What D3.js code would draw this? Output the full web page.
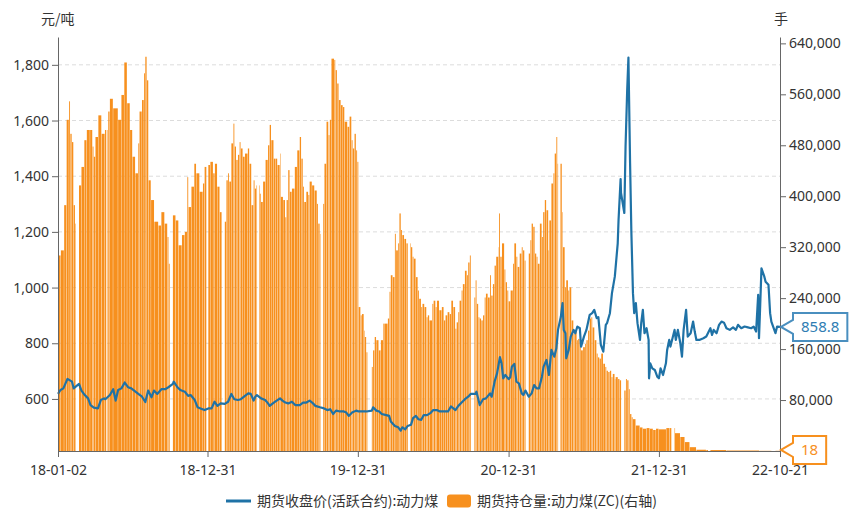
<!DOCTYPE html>
<html>
<head>
<meta charset="utf-8">
<script src="https://cdn.jsdelivr.net/npm/d3@7"></script>
<style>
  body { margin: 0; background: #fff; }
  svg { display: block; font-family: "Noto Sans CJK SC", "Noto Sans", sans-serif; }
</style>
</head>
<body>
<div id="chart"></div>
<script>
// 期货收盘价(活跃合约):动力煤, 元/吨
const priceDates = [
  "2018-01-02","2018-01-08","2018-01-15","2018-01-25","2018-02-05","2018-02-09","2018-02-22","2018-02-28",
  "2018-03-08","2018-03-16","2018-03-22","2018-03-30","2018-04-09","2018-04-16","2018-04-24","2018-04-27",
  "2018-05-08","2018-05-16","2018-05-22","2018-05-28","2018-06-05","2018-06-13","2018-06-21","2018-06-29",
  "2018-07-09","2018-07-16","2018-07-25","2018-08-02","2018-08-09","2018-08-17","2018-08-23","2018-08-31",
  "2018-09-10","2018-09-19","2018-09-27","2018-10-08","2018-10-10","2018-10-19","2018-10-26","2018-11-06",
  "2018-11-14","2018-11-20","2018-11-30","2018-12-07","2018-12-14","2018-12-24",
  "2019-01-02","2019-01-10","2019-01-17","2019-01-24","2019-02-01","2019-02-11","2019-02-19","2019-02-27",
  "2019-03-06","2019-03-15","2019-03-22","2019-04-01","2019-04-09","2019-04-15","2019-04-22","2019-04-26",
  "2019-04-30","2019-05-10","2019-05-20","2019-05-27","2019-05-31","2019-06-10","2019-06-17","2019-06-25",
  "2019-07-01","2019-07-08","2019-07-15","2019-07-24","2019-08-01","2019-08-12","2019-08-20","2019-08-28",
  "2019-09-05","2019-09-11","2019-09-19","2019-09-30","2019-10-10","2019-10-18","2019-10-25","2019-11-01",
  "2019-11-08","2019-11-18","2019-11-27","2019-12-03","2019-12-09","2019-12-17","2019-12-27",
  "2020-01-02","2020-01-08","2020-01-21","2020-02-03","2020-02-06","2020-02-14","2020-02-21","2020-02-27",
  "2020-03-09","2020-03-16","2020-03-20","2020-03-30","2020-04-07","2020-04-13","2020-04-17","2020-04-24",
  "2020-04-30","2020-05-08","2020-05-13","2020-05-20","2020-05-26","2020-06-02","2020-06-08","2020-06-16",
  "2020-06-24","2020-07-01","2020-07-10","2020-07-17","2020-07-29","2020-08-06","2020-08-13","2020-08-24",
  "2020-08-31","2020-09-08","2020-09-16","2020-09-24","2020-09-30","2020-10-12","2020-10-14","2020-10-22",
  "2020-10-30","2020-11-06","2020-11-16","2020-11-20","2020-11-27","2020-12-03","2020-12-10","2020-12-14",
  "2020-12-18","2020-12-23","2020-12-31",
  "2021-01-04","2021-01-08","2021-01-14","2021-01-19","2021-01-25","2021-02-01","2021-02-05","2021-02-10",
  "2021-02-18","2021-02-25","2021-03-03","2021-03-09","2021-03-15","2021-03-22","2021-03-26","2021-04-02",
  "2021-04-08","2021-04-14","2021-04-21","2021-04-26","2021-04-30","2021-05-07","2021-05-11","2021-05-14",
  "2021-05-18","2021-05-20","2021-05-26","2021-05-31","2021-06-07","2021-06-11","2021-06-16","2021-06-22",
  "2021-06-25","2021-07-02","2021-07-08","2021-07-16","2021-07-22","2021-07-27","2021-08-02","2021-08-06",
  "2021-08-12","2021-08-18","2021-08-24","2021-08-27","2021-09-03","2021-09-08","2021-09-15","2021-09-22",
  "2021-09-24","2021-09-29","2021-09-30","2021-10-08","2021-10-11","2021-10-15","2021-10-18","2021-10-22",
  "2021-10-25","2021-10-29","2021-11-01","2021-11-05","2021-11-09","2021-11-15","2021-11-18","2021-11-22",
  "2021-11-26","2021-12-01","2021-12-06","2021-12-07","2021-12-10","2021-12-15","2021-12-21","2021-12-27",
  "2021-12-31",
  "2022-01-04","2022-01-10","2022-01-17","2022-01-20","2022-01-25","2022-01-28","2022-02-07","2022-02-10",
  "2022-02-15","2022-02-21","2022-02-25","2022-03-01","2022-03-07","2022-03-11","2022-03-18","2022-03-24",
  "2022-03-28","2022-04-01","2022-04-08","2022-04-18","2022-04-25","2022-05-05","2022-05-09","2022-05-13",
  "2022-05-20","2022-05-26","2022-06-01","2022-06-07","2022-06-13","2022-06-21","2022-06-29","2022-07-06",
  "2022-07-11","2022-07-19","2022-07-27","2022-08-04","2022-08-12","2022-08-18","2022-08-24","2022-08-29",
  "2022-08-31","2022-09-02","2022-09-06","2022-09-13","2022-09-16","2022-09-23","2022-09-27","2022-09-30",
  "2022-10-10","2022-10-14","2022-10-21"
];
const priceValues = [
  618,632,638,672,662,638,654,630, 614,602,578,569,566,596,602,599,
  614,635,594,632,638,659,642,638, 626,618,608,589,630,606,630,618,
  635,635,642,654,662,642,632,626, 611,614,596,570,566,560,
  566,566,590,575,584,582,590,618, 599,596,599,611,620,618,594,608,
  614,602,596,584,575,587,594,602, 594,587,584,590,578,578,587,587,
  594,587,575,570,566,560,563,546, 558,555,555,551,539,551,558,
  555,555,555,558,570,558,555,546, 542,539,519,503,498,486,498,491,
  503,507,531,539,527,525,542,542, 549,560,560,555,555,555,573,560,
  575,587,599,608,618,618,626,578, 599,602,620,608,662,692,750,728,
  674,686,671,
  678,716,726,662,656,620,614,630, 608,620,650,638,638,680,716,740,
  686,776,752,782,848,896,944,848, 836,746,776,824,848,836,860,854,
  788,824,848,902,908,920,890,894, 794,770,866,872,908,980,1040,1159,
  1243,1390,1340,1268,1506,1710,1826,1447, 1207,980,908,944,872,812,872,920,
  836,854,812,674,728,710,704,680,
  674,
  710,686,728,776,812,788,848,812, 848,800,752,848,920,824,836,878,
  842,812,812,818,824,854,830,848, 836,866,878,874,854,848,857,848,
  866,854,860,857,854,860,842,974, 818,896,1069,1039,1021,1010,908,878,
  836,860,858.8
];

// 期货持仓量:动力煤(ZC), 手 (右轴)
const oiDates = [
  "2018-01-02","2018-01-09","2018-01-17","2018-01-23","2018-01-29","2018-02-01","2018-02-05","2018-02-09",
  "2018-02-13","2018-02-22","2018-02-28","2018-03-07","2018-03-13","2018-03-21","2018-03-27","2018-03-30",
  "2018-04-03","2018-04-10","2018-04-18","2018-04-26","2018-05-04","2018-05-08","2018-05-16","2018-05-28",
  "2018-06-05","2018-06-12","2018-06-19","2018-06-26","2018-07-02","2018-07-09","2018-07-16","2018-07-19",
  "2018-07-25","2018-07-30","2018-08-02","2018-08-06","2018-08-10","2018-08-16","2018-08-24","2018-09-03",
  "2018-09-10","2018-09-18","2018-09-25","2018-09-28","2018-10-08","2018-10-15","2018-10-22","2018-10-30",
  "2018-11-06","2018-11-12","2018-11-15","2018-11-22","2018-11-29","2018-12-04","2018-12-12","2018-12-20",
  "2018-12-24",
  "2019-01-02","2019-01-07","2019-01-14","2019-01-18","2019-01-24","2019-01-30","2019-02-11","2019-02-15",
  "2019-02-19","2019-02-22","2019-02-27","2019-03-04","2019-03-07","2019-03-11","2019-03-15","2019-03-19",
  "2019-03-22","2019-03-27","2019-04-01","2019-04-08","2019-04-12","2019-04-17","2019-04-22","2019-04-25",
  "2019-04-29","2019-05-07","2019-05-10","2019-05-15","2019-05-21","2019-05-27","2019-05-31","2019-06-04",
  "2019-06-10","2019-06-14","2019-06-19","2019-06-25","2019-06-27","2019-07-03","2019-07-08","2019-07-11",
  "2019-07-15","2019-07-19","2019-07-24","2019-07-31","2019-08-06","2019-08-12","2019-08-16","2019-08-20",
  "2019-08-23","2019-08-28","2019-09-02","2019-09-05","2019-09-11","2019-09-17","2019-09-23","2019-09-26",
  "2019-09-30","2019-10-08","2019-10-11","2019-10-16","2019-10-21","2019-10-24","2019-10-28","2019-11-04",
  "2019-11-07","2019-11-11","2019-11-15","2019-11-20","2019-11-25","2019-11-29","2019-12-06","2019-12-11",
  "2019-12-16","2019-12-19","2019-12-23","2019-12-27","2019-12-30",
  "2020-01-02","2020-01-07","2020-01-10","2020-01-15","2020-01-17","2020-01-21","2020-02-03","2020-02-06",
  "2020-02-10","2020-02-14","2020-02-20","2020-02-25","2020-03-02","2020-03-06","2020-03-13","2020-03-17",
  "2020-03-20","2020-03-25","2020-03-30","2020-04-02","2020-04-07","2020-04-10","2020-04-14","2020-04-17",
  "2020-04-22","2020-04-27","2020-05-06","2020-05-08","2020-05-12","2020-05-15","2020-05-20","2020-05-25",
  "2020-05-28","2020-06-02","2020-06-05","2020-06-10","2020-06-15","2020-06-18","2020-06-22","2020-06-29",
  "2020-07-02","2020-07-07","2020-07-10","2020-07-16","2020-07-22","2020-07-27","2020-07-31","2020-08-05",
  "2020-08-10","2020-08-14","2020-08-19","2020-08-24","2020-08-27","2020-08-31","2020-09-03","2020-09-08",
  "2020-09-11","2020-09-16","2020-09-21","2020-09-24","2020-09-28","2020-10-09","2020-10-12","2020-10-15",
  "2020-10-19","2020-10-22","2020-10-26","2020-10-30","2020-11-03","2020-11-06","2020-11-11","2020-11-16",
  "2020-11-19","2020-11-23","2020-11-27","2020-12-01","2020-12-07","2020-12-08","2020-12-11","2020-12-15",
  "2020-12-21","2020-12-24","2020-12-28","2020-12-31",
  "2021-01-05","2021-01-11","2021-01-14","2021-01-19","2021-01-22","2021-01-27","2021-02-01","2021-02-04",
  "2021-02-08","2021-02-18","2021-02-22","2021-02-25","2021-03-01","2021-03-05","2021-03-09","2021-03-12",
  "2021-03-17","2021-03-22","2021-03-25","2021-03-29","2021-04-02","2021-04-07","2021-04-09","2021-04-14",
  "2021-04-19","2021-04-22","2021-04-26","2021-04-29","2021-05-06","2021-05-10","2021-05-12","2021-05-17",
  "2021-05-20","2021-05-25","2021-05-28","2021-06-02","2021-06-07","2021-06-10","2021-06-15","2021-06-18",
  "2021-06-22","2021-06-25","2021-06-30","2021-07-05","2021-07-08","2021-07-12","2021-07-16","2021-07-20",
  "2021-07-23","2021-07-28","2021-08-02","2021-08-05","2021-08-09","2021-08-13","2021-08-18","2021-08-23",
  "2021-08-26","2021-08-30","2021-09-03","2021-09-07","2021-09-10","2021-09-15","2021-09-17","2021-09-23",
  "2021-09-27","2021-10-08","2021-10-12","2021-10-15","2021-10-19","2021-10-22","2021-10-26","2021-10-29",
  "2021-11-05","2021-11-15","2021-11-22","2021-12-01","2021-12-09","2021-12-17","2021-12-24","2021-12-31",
  "2022-01-18","2022-01-26","2022-02-08","2022-02-21","2022-03-04","2022-03-16","2022-04-01","2022-04-25",
  "2022-06-13","2022-09-01","2022-10-21"
];
const oiValues = [
  307000,315000,386000,520000,549000,498000,485000,386000,
  357000,417000,446000,488000,504000,504000,478000,462000,
  493000,527000,498000,504000,533000,553000,538000,520000,
  559000,610000,546000,504000,462000,436000,483000,533000,
  551000,593000,619000,582000,425000,394000,360000,354000,
  375000,357000,336000,294000,370000,362000,323000,339000,
  344000,430000,383000,415000,451000,436000,407000,420000,
  446000,
  449000,454000,436000,451000,415000,375000,360000,425000,
  436000,423000,483000,514000,478000,457000,465000,485000,
  475000,462000,467000,475000,451000,386000,425000,412000,
  417000,404000,391000,423000,457000,480000,512000,488000,
  459000,459000,449000,467000,399000,394000,367000,394000,
  441000,407000,412000,446000,472000,493000,459000,415000,
  391000,407000,402000,423000,417000,409000,388000,357000,
  341000,388000,451000,517000,496000,520000,616000,614000,
  598000,577000,551000,543000,540000,517000,509000,525000,
  488000,475000,498000,472000,454000,
  226000,213000,215000,189000,179000,155000,132000,158000,
  179000,174000,158000,174000,200000,200000,208000,250000,
  276000,273000,341000,315000,326000,373000,347000,339000,
  333000,326000,326000,320000,305000,302000,273000,252000,
  239000,226000,231000,226000,210000,213000,205000,231000,
  236000,226000,236000,221000,226000,205000,213000,218000,
  215000,236000,226000,192000,202000,218000,236000,252000,
  262000,283000,276000,296000,307000,241000,268000,231000,
  210000,208000,205000,213000,241000,247000,241000,276000,
  244000,262000,291000,305000,320000,373000,305000,326000,
  285000,265000,252000,235000,
  252000,294000,326000,305000,289000,310000,320000,315000,
  299000,310000,331000,357000,352000,310000,305000,294000,
  357000,336000,375000,394000,378000,315000,362000,420000,
  436000,467000,493000,451000,451000,375000,320000,257000,
  268000,252000,257000,205000,184000,189000,174000,176000,
  171000,158000,163000,168000,174000,189000,208000,210000,
  194000,174000,153000,147000,145000,153000,137000,132000,
  126000,124000,126000,116000,121000,113000,116000,113000,
  111000,95000,113000,111000,97000,58000,53000,50000,
  40000,37000,35000,36000,35000,33000,35000,34000,
  36000,36000,28000,22000,14000,6000,2000,1500,
  800,300,18
];

// exchange closures: [first closed day, reopening day]
const closures = [
  ["2018-02-15","2018-02-22"], ["2018-04-30","2018-05-02"], ["2018-10-01","2018-10-08"],
  ["2018-12-29","2019-01-02"], ["2019-02-04","2019-02-11"], ["2019-05-01","2019-05-06"],
  ["2019-10-01","2019-10-08"], ["2020-01-24","2020-02-03"], ["2020-05-01","2020-05-06"],
  ["2020-10-01","2020-10-09"], ["2021-02-11","2021-02-18"], ["2021-05-01","2021-05-06"],
  ["2021-10-01","2021-10-08"], ["2022-01-31","2022-02-07"], ["2022-04-30","2022-05-05"],
  ["2022-10-01","2022-10-10"]
];

const leftTicks = [600, 800, 1000, 1200, 1400, 1600, 1800];
const rightTicks = [80000, 160000, 240000, 320000, 400000, 480000, 560000, 640000];
const dateTicks = ["2018-01-02", "2018-12-31", "2019-12-31", "2020-12-31", "2021-12-31", "2022-10-21"];

const width = 861, height = 513;
const plotLeft = 58, plotRight = 780, plotTop = 37, plotBottom = 451;
const blue = "#1f72a6", orange = "#f7901e";

const parse = d3.timeParse("%Y-%m-%d");

const x = d3.scaleTime()
    .domain([parse(dateTicks[0]), parse(dateTicks[dateTicks.length - 1])])
    .range([plotLeft, plotRight]);
const yLeft = d3.scaleLinear().domain([413, 1900]).range([plotBottom, plotTop]);
const yRight = d3.scaleLinear().domain([0, 650000]).range([plotBottom, plotTop]);

const svg = d3.select("#chart").append("svg")
    .attr("width", width)
    .attr("height", height);

// grid
svg.append("g")
    .selectAll("line")
    .data(leftTicks)
    .enter().append("line")
    .attr("x1", plotLeft).attr("x2", plotRight)
    .attr("y1", d => yLeft(d)).attr("y2", d => yLeft(d))
    .attr("stroke", "#dcdcdc")
    .attr("stroke-dasharray", "4,3");

// open interest bars, broken at exchange holidays
const spans = closures.map(c => [parse(c[0]), parse(c[1])]);
const bars = [];
oiDates.forEach((d, i) => {
    const t0 = parse(d);
    const t1 = i < oiDates.length - 1 ? parse(oiDates[i + 1]) : d3.timeDay.offset(t0, 1);
    let start = t0;
    spans.forEach(([c0, c1]) => {
        if (c0 > start && c0 < t1) {
            bars.push({t0: start, t1: c0, v: oiValues[i]});
            start = c1;
        }
    });
    if (start < t1) bars.push({t0: start, t1: t1, v: oiValues[i]});
});

svg.append("g")
    .selectAll("rect")
    .data(bars)
    .enter().append("rect")
    .attr("x", d => x(d.t0))
    .attr("width", d => Math.max(0.5, Math.min(x(d.t1), plotRight) - x(d.t0) - 0.35))
    .attr("y", d => yRight(d.v))
    .attr("height", d => plotBottom - yRight(d.v))
    .attr("fill", orange);

// price line
const pricePoints = priceDates.map((d, i) => ({t: parse(d), v: priceValues[i]}));
const line = d3.line()
    .x(d => x(d.t))
    .y(d => yLeft(d.v));

svg.append("path")
    .datum(pricePoints)
    .attr("d", line)
    .attr("fill", "none")
    .attr("stroke", blue)
    .attr("stroke-width", 2.2)
    .attr("stroke-linejoin", "round");

// axes
const styleAxis = g => {
    g.selectAll(".domain").attr("stroke", "#666");
    g.selectAll(".tick line").attr("stroke", "#666");
    g.selectAll(".tick text")
        .attr("fill", "#333")
        .style("font-size", "14px")
        .style("font-family", '"Noto Sans", "Noto Sans CJK SC", sans-serif');
};

svg.append("g")
    .attr("transform", `translate(${plotLeft},0)`)
    .call(d3.axisLeft(yLeft).tickValues(leftTicks).tickFormat(d3.format(",")).tickSizeOuter(0).tickPadding(3))
    .call(styleAxis);

svg.append("g")
    .attr("transform", `translate(${plotRight},0)`)
    .call(d3.axisRight(yRight).tickValues(rightTicks).tickFormat(d3.format(",")).tickSizeOuter(0).tickPadding(3))
    .call(styleAxis);

svg.append("g")
    .attr("transform", `translate(0,${plotBottom})`)
    .call(d3.axisBottom(x).tickValues(dateTicks.map(parse)).tickFormat(d3.timeFormat("%y-%m-%d")).tickSizeOuter(0).tickPadding(8))
    .call(styleAxis);

// unit labels
svg.append("text")
    .attr("x", 41).attr("y", 24)
    .attr("fill", "#333").style("font-size", "14px")
    .text("元/吨");
svg.append("text")
    .attr("x", 774).attr("y", 24)
    .attr("fill", "#333").style("font-size", "14px")
    .text("手");

// last value callouts
function callout(tipY, label, color, textColor) {
    const tipX = plotRight + 1;
    const g = svg.append("g");
    const txt = g.append("text")
        .attr("x", tipX + 20)
        .attr("y", tipY)
        .attr("dy", "0.36em")
        .attr("fill", textColor)
        .style("font-size", "15px")
        .style("font-family", '"Noto Sans", sans-serif')
        .text(label);
    const w = txt.node().getComputedTextLength();
    const bx = tipX + 12, bw = w + 16, h = 28;
    g.insert("path", "text")
        .attr("d", `M${tipX},${tipY} L${bx},${tipY - 7} L${bx},${tipY - h / 2} L${bx + bw},${tipY - h / 2}
            L${bx + bw},${tipY + h / 2} L${bx},${tipY + h / 2} L${bx},${tipY + 7} Z`)
        .attr("fill", "#fff")
        .attr("stroke", color)
        .attr("stroke-width", 2);
}
const lastPrice = priceValues[priceValues.length - 1];
const lastOi = oiValues[oiValues.length - 1];
callout(yLeft(lastPrice), d3.format(".1f")(lastPrice), "#4a8fbf", "#2f7db3");
callout(yRight(lastOi) - 1, String(lastOi), orange, orange);

// legend
const legend = svg.append("g").attr("transform", "translate(0,501)");
legend.append("line")
    .attr("x1", 226).attr("x2", 251)
    .attr("stroke", blue).attr("stroke-width", 3);
legend.append("text")
    .attr("x", 257).attr("dy", "0.35em")
    .attr("fill", "#333").style("font-size", "14px")
    .text("期货收盘价(活跃合约):动力煤");
legend.append("rect")
    .attr("x", 447).attr("y", -6.5)
    .attr("width", 24).attr("height", 13)
    .attr("rx", 3)
    .attr("fill", orange);
legend.append("text")
    .attr("x", 477).attr("dy", "0.35em")
    .attr("fill", "#333").style("font-size", "14px")
    .text("期货持仓量:动力煤(ZC)(右轴)");
</script>
</body>
</html>
